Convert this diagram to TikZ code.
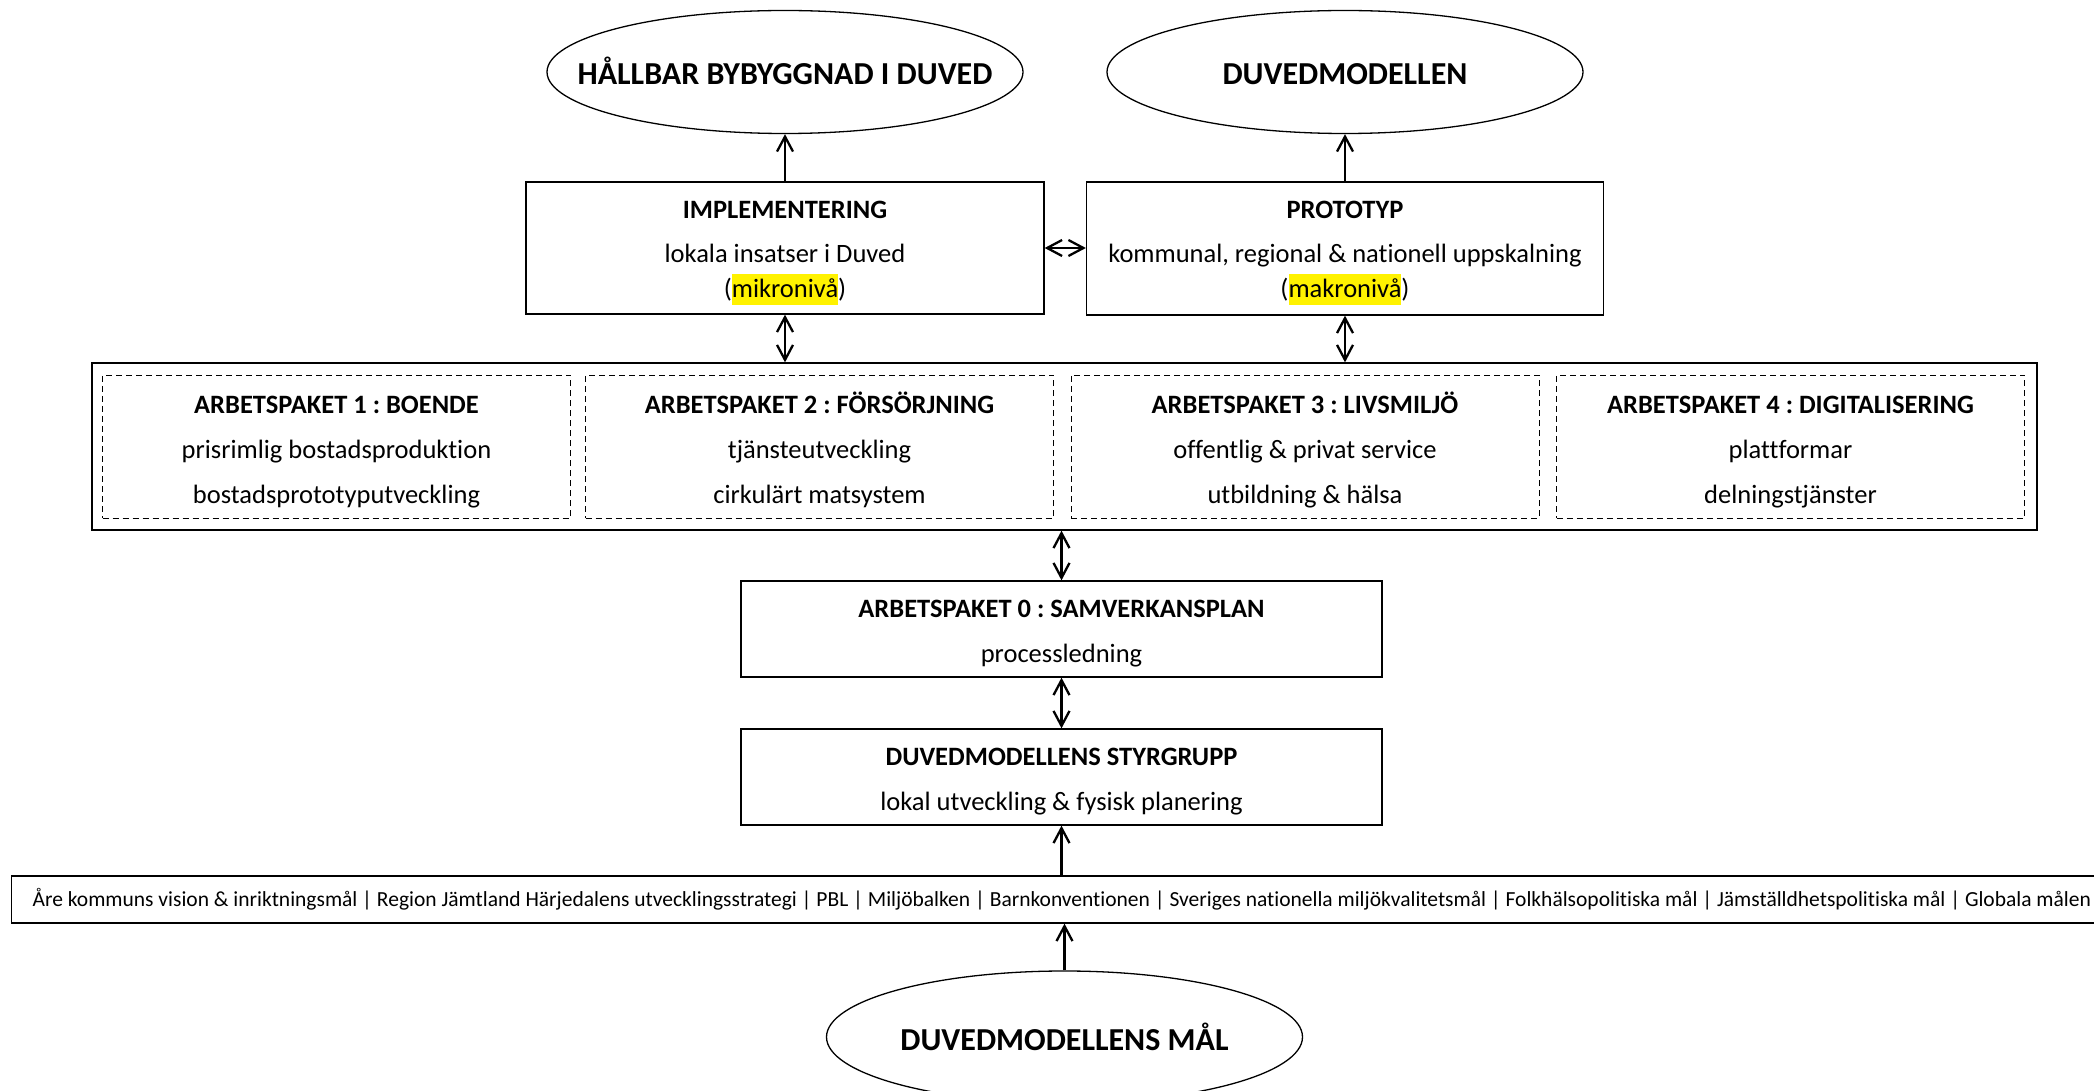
\documentclass[tikz,border=0pt]{standalone}
\usepackage{fontspec}
\setmainfont{Carlito}[Ligatures=NoCommon]
\usetikzlibrary{arrows.meta,shapes.geometric}
\newcommand\hlmark[1]{{\setlength{\fboxsep}{0pt}\colorbox{yellow}{\rule[-7.5pt]{0pt}{31pt}#1}}}
\newcommand\topstrut{\rule{0pt}{24pt}}
\newcommand\botstrut{\rule[-8pt]{0pt}{8pt}}
\begin{document}
\frenchspacing
\begin{tikzpicture}[x=1pt,y=-1pt,
  ell/.style={ellipse, draw, line width=1.3pt, minimum width=476pt, minimum height=123pt, inner sep=0pt},
  title/.style={inner sep=0pt, text height=26pt, text depth=0pt, font=\bfseries\fontsize{32}{38}\selectfont},
  box/.style={rectangle, draw, line width=1.3pt, inner sep=0pt},
  txt/.style={align=center, inner sep=0pt, font=\fontsize{26.5}{32}\selectfont},
  wpbox/.style={rectangle, draw, line width=1pt, dash pattern=on 6pt off 4pt, inner sep=0pt, minimum width=468pt, minimum height=143pt},
  uparr/.style={line width=2.3pt, -{Straight Barb[length=15pt,width=16pt]}},
  dblarr/.style={line width=2.3pt, {Straight Barb[length=15pt,width=16pt]}-{Straight Barb[length=15pt,width=16pt]}}
]
\useasboundingbox (0,0) rectangle (2094,1091);
\clip (0,0) rectangle (2094,1091);

\node[ell] (hall) at (785,72) {};
\node[title] (hallT) at (hall.center) {HÅLLBAR BYBYGGNAD I DUVED};
\node[ell] (dm) at (1345,72) {};
\node[title] (dmT) at (dm.center) {DUVEDMODELLEN};

\node[box, minimum width=518pt, minimum height=132pt] (impl) at (785,248) {};
\node[txt] (implT) at ([yshift=-2pt]impl.center)
  {\topstrut\textbf{IMPLEMENTERING}\\[12pt] lokala insatser i Duved\\[3pt] (\hlmark{mikronivå})\botstrut};
\node[box, minimum width=517pt, minimum height=133pt] (proto) at (1345,248.5) {};
\node[txt] (protoT) at ([yshift=-2pt]proto.center)
  {\topstrut\textbf{PROTOTYP}\\[12pt] kommunal, regional \& nationell uppskalning\\[3pt] (\hlmark{makronivå})\botstrut};

\node[box, minimum width=1945pt, minimum height=167pt] (outer) at (1064.5,446.5) {};
\node[wpbox] (ap1) at (336.5,446.5) {};
\node[wpbox] (ap2) at (819.5,446.5) {};
\node[wpbox] (ap3) at (1305,446.5) {};
\node[wpbox] (ap4) at (1790.5,446.5) {};
\node[txt] (ap1T) at ([yshift=-3.8pt]ap1.center) {\topstrut\textbf{ARBETSPAKET 1 : BOENDE}\\[13pt] prisrimlig bostadsproduktion\\[13pt] bostadsprototyputveckling\botstrut};
\node[txt] (ap2T) at ([yshift=-3.8pt]ap2.center) {\topstrut\textbf{ARBETSPAKET 2 : FÖRSÖRJNING}\\[13pt] tjänsteutveckling\\[13pt] cirkulärt matsystem\botstrut};
\node[txt] (ap3T) at ([yshift=-3.8pt]ap3.center) {\topstrut\textbf{ARBETSPAKET 3 : LIVSMILJÖ}\\[13pt] offentlig \& privat service\\[13pt] utbildning \& hälsa\botstrut};
\node[txt] (ap4T) at ([yshift=-3.8pt]ap4.center) {\topstrut\textbf{ARBETSPAKET 4 : DIGITALISERING}\\[13pt] plattformar\\[13pt] delningstjänster\botstrut};

\node[box, minimum width=641pt, minimum height=96pt] (ap0) at (1061.5,629) {};
\node[txt] (ap0T) at ([yshift=-2.8pt]ap0.center) {\topstrut\textbf{ARBETSPAKET 0 : SAMVERKANSPLAN}\\[13pt] processledning\botstrut};
\node[box, minimum width=641pt, minimum height=96pt] (styr) at (1061.5,777) {};
\node[txt] (styrT) at ([yshift=-3.2pt]styr.center) {\topstrut\textbf{DUVEDMODELLENS STYRGRUPP}\\[13pt] lokal utveckling \& fysisk planering\botstrut};

\node[box, anchor=west, minimum height=47pt, inner xsep=21pt, font=\fontsize{21.5}{26}\selectfont] (strip) at (11,899.5)
  {Åre kommuns vision \& inriktningsmål | Region Jämtland Härjedalens utvecklingsstrategi | PBL | Miljöbalken | Barnkonventionen | Sveriges nationella miljökvalitetsmål | Folkhälsopolitiska mål | Jämställdhetspolitiska mål | Globala målen\hspace{80pt}};

\node[ell, minimum height=132pt] (mal) at (1064.5,1037) {};
\node[title] (malT) at (mal.center) {DUVEDMODELLENS MÅL};

\draw[uparr] (impl.north) -- (impl.north |- hall.south);
\draw[uparr] (proto.north) -- (proto.north |- dm.south);
\draw[dblarr] (impl.east) -- (proto.west |- impl.east);
\draw[dblarr] (impl.south) -- (impl.south |- outer.north);
\draw[dblarr] (proto.south) -- (proto.south |- outer.north);
\draw[dblarr] (ap0.north) -- (ap0.north |- outer.south);
\draw[dblarr] (styr.north) -- (styr.north |- ap0.south);
\draw[uparr] (strip.north -| styr.south) -- (styr.south);
\draw[uparr] (mal.north) -- (mal.north |- strip.south);
\end{tikzpicture}
\end{document}
